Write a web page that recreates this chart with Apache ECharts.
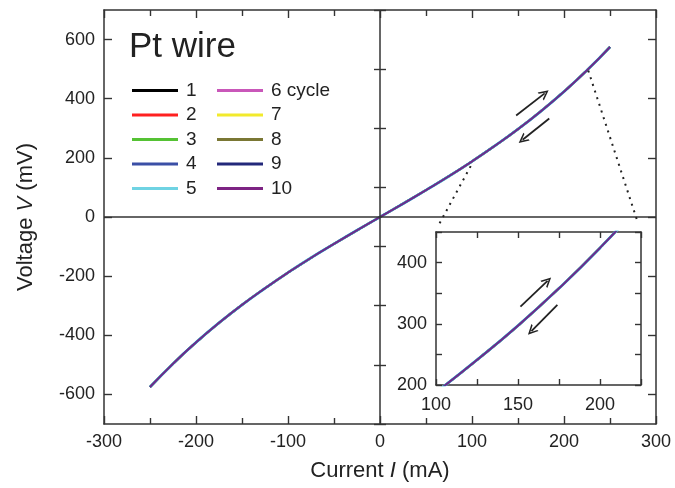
<!DOCTYPE html>
<html><head><meta charset="utf-8">
<script src="https://cdn.jsdelivr.net/npm/echarts@6/dist/echarts.min.js"></script>
<style>html,body{margin:0;padding:0;background:#fff}#c{width:675px;height:488px}</style>
</head><body><div id="c"></div>
<script>
// Data (current in mA, voltage in mV); all 10 cycles overlap
const current = [-250,-225,-200,-175,-150,-125,-100,-75,-50,-25,0,25,50,75,100,125,150,175,200,225,250];
const voltage = [-575,-496,-424,-358,-297,-241,-188,-138,-91,-45,0,45,91,138,188,241,297,358,424,496,575];
const cycleNames = ['1','2','3','4','5','6 cycle','7','8','9','10'];
const cycleColors = ['#000000','#ff2020','#55c234','#3b4fa6','#6fd3e3','#c957b9','#f2ea2c','#7a7734','#23287a','#7d2383'];
const mainXTicks = [-300,-200,-100,0,100,200,300];
const mainYTicks = [-600,-400,-200,0,200,400,600];
const mainYMinor = [-700,-500,-300,-100,100,300,500,700];
const insetXLabels = [100,150,200];
const insetYLabels = [200,300,400];

const FONT = 'Liberation Sans, Arial, Helvetica, sans-serif';
const TXT = '#222';
const AX = '#333';
const pts = current.map((x,i)=>[x, voltage[i]]);

const drawOrder = [0,1,2,5,6,7,8,4,3,9];
const widths = {4:2.8, 3:2.2, 9:1.3};

const tickStyle = {color:AX, width:1.4};
function axisCommon(extra){
  return Object.assign({
    type:'value',
    axisLine:{show:true, onZero:false, lineStyle:{color:AX, width:1.5}},
    axisTick:{show:true, inside:true, length:8, lineStyle:tickStyle},
    minorTick:{show:false},
    splitLine:{show:false},
    axisLabel:{color:TXT, fontSize:18, fontFamily:FONT}
  }, extra);
}

const series = [];
drawOrder.forEach(k=>{
  series.push({
    name: cycleNames[k], type:'line', xAxisIndex:0, yAxisIndex:0,
    data: pts, smooth:0.5, symbol:'none', color: cycleColors[k],
    lineStyle:{width: widths[k] || 2, color: cycleColors[k]}, animation:false
  });
});
drawOrder.forEach(k=>{
  series.push({
    name: cycleNames[k], type:'line', xAxisIndex:2, yAxisIndex:3,
    data: pts, smooth:0.5, symbol:'none', color: cycleColors[k],
    lineStyle:{width: widths[k] || 2, color: cycleColors[k]}, animation:false
  });
});

const arrowSym = 'path://M5,0 L10,10 L8.3,10 L5,3.4 L1.7,10 L0,10 Z';
function arrow(a,b){
  return [{coord:a, symbol:'none'},{coord:b, symbol:arrowSym, symbolSize:[10,10]}];
}
series.push({
  type:'line', name:'ann-main', xAxisIndex:0, yAxisIndex:0, data:[], silent:true,
  markLine:{
    silent:true, symbol:['none','none'], label:{show:false}, animation:false,
    lineStyle:{color:AX, width:1.5, type:'solid'},
    data:[
      {xAxis:0}, {yAxis:0},
      [{coord:[148,343], symbol:'none', lineStyle:{color:'#222', width:1.8, type:'solid'}},{coord:[179,418], symbol:arrowSym, symbolSize:[10,10]}],
      [{coord:[184,333], symbol:'none', lineStyle:{color:'#222', width:1.8, type:'solid'}},{coord:[155,261], symbol:arrowSym, symbolSize:[10,10]}],
      [{coord:[98.6,172], lineStyle:{type:[2,5], width:2, color:'#222'}},{coord:[63.4,-29]}],
      [{coord:[226.4,495], lineStyle:{type:[2,5], width:2, color:'#222'}},{coord:[280.1,-17.5]}]
    ]
  }
});
series.push({
  type:'line', name:'ann-inset', xAxisIndex:2, yAxisIndex:3, data:[], silent:true,
  markLine:{
    silent:true, symbol:['none','none'], label:{show:false}, animation:false,
    lineStyle:{color:'#222', width:1.8, type:'solid'},
    data:[
      arrow([151.5,328],[168,370]),
      arrow([174,331],[158.2,288])
    ]
  }
});

const legendCommon = {orient:'vertical', top:81, itemWidth:46, itemHeight:3, itemGap:5.5, icon:'rect',
  textStyle:{fontSize:19, color:TXT, fontFamily:FONT, padding:[0,0,0,3]}, selectedMode:false, padding:0};

const option = {
  animation:false,
  backgroundColor:'#fff',
  textStyle:{fontFamily:FONT},
  title:{text:'Pt wire', left:129, top:30, padding:0, textStyle:{fontSize:35, fontWeight:'normal', color:TXT, fontFamily:FONT}},
  legend:[
    Object.assign({data:cycleNames.slice(0,5), left:132}, legendCommon),
    Object.assign({data:cycleNames.slice(5), left:217}, legendCommon)
  ],
  grid:[
    {left:104, right:19, top:10, bottom:64, containLabel:false, outerBoundsMode:'none', show:false},
    {left:436, top:232, width:205, height:153, containLabel:false, outerBoundsMode:'none', show:true, backgroundColor:'#fff', borderWidth:0}
  ],
  xAxis:[
    axisCommon({gridIndex:0, position:'bottom', min:-300, max:300, interval:100,
      minorTick:{show:true, splitNumber:2, length:6, lineStyle:tickStyle},
      axisLabel:{color:TXT, fontSize:18, fontFamily:FONT, margin:9, formatter:v=>mainXTicks.includes(v)?String(v):''},
      name:'{n|Current }{i|I}{n| (mA)}', nameLocation:'middle', nameGap:36,
      nameTextStyle:{rich:{n:{fontSize:22, color:TXT, fontFamily:FONT}, i:{fontSize:22, color:TXT, fontStyle:'italic', fontFamily:FONT}}}}),
    axisCommon({gridIndex:0, position:'top', min:-300, max:300, interval:100,
      minorTick:{show:true, splitNumber:2, length:6, lineStyle:tickStyle}, axisLabel:{show:false}}),
    axisCommon({gridIndex:1, position:'bottom', min:100, max:225, interval:25,
      axisTick:{show:true, inside:true, length:6, lineStyle:tickStyle},
      axisLabel:{color:TXT, fontSize:18, fontFamily:FONT, margin:11, formatter:v=>insetXLabels.includes(v)?String(v):''}}),
    axisCommon({gridIndex:1, position:'top', min:100, max:225, interval:25,
      axisTick:{show:true, inside:true, length:6, lineStyle:tickStyle}, axisLabel:{show:false}})
  ],
  yAxis:[
    axisCommon({gridIndex:0, position:'left', min:-700, max:700, interval:100,
      axisTick:{show:true, inside:true, length:8, lineStyle:tickStyle, customValues:mainYTicks},
      axisLabel:{color:TXT, fontSize:18, fontFamily:FONT, margin:9, customValues:mainYTicks, formatter:v=>mainYTicks.includes(v)?String(v):''},
      name:'{n|Voltage }{i|V}{n| (mV)}', nameLocation:'middle', nameGap:67,
      nameTextStyle:{rich:{n:{fontSize:22, color:TXT, fontFamily:FONT}, i:{fontSize:22, color:TXT, fontStyle:'italic', fontFamily:FONT}}}}),
    axisCommon({gridIndex:0, position:'right', min:-700, max:700, interval:100,
      axisTick:{show:true, inside:true, length:8, lineStyle:tickStyle, customValues:mainYTicks}, axisLabel:{show:false}}),
    axisCommon({gridIndex:0, position:'left', min:-700, max:700, interval:100, offset:0,
      axisLine:{show:false}, axisTick:{show:true, inside:true, length:6, lineStyle:tickStyle, customValues:mainYMinor}, axisLabel:{show:false}}),
    axisCommon({gridIndex:1, position:'left', min:200, max:450, interval:50,
      axisTick:{show:true, inside:true, length:6, lineStyle:tickStyle},
      axisLabel:{color:TXT, fontSize:18, fontFamily:FONT, margin:9, formatter:v=>insetYLabels.includes(v)?String(v):''}}),
    axisCommon({gridIndex:1, position:'right', min:200, max:450, interval:50,
      axisTick:{show:true, inside:true, length:6, lineStyle:tickStyle}, axisLabel:{show:false}}),
    axisCommon({gridIndex:0, position:'right', min:-700, max:700, interval:100, offset:0,
      axisLine:{show:false}, axisTick:{show:true, inside:true, length:6, lineStyle:tickStyle, customValues:mainYMinor}, axisLabel:{show:false}})
  ],
  series: series
};
const chart = echarts.init(document.getElementById('c'), null, {renderer:'canvas'});
chart.setOption(option);
</script></body></html>
